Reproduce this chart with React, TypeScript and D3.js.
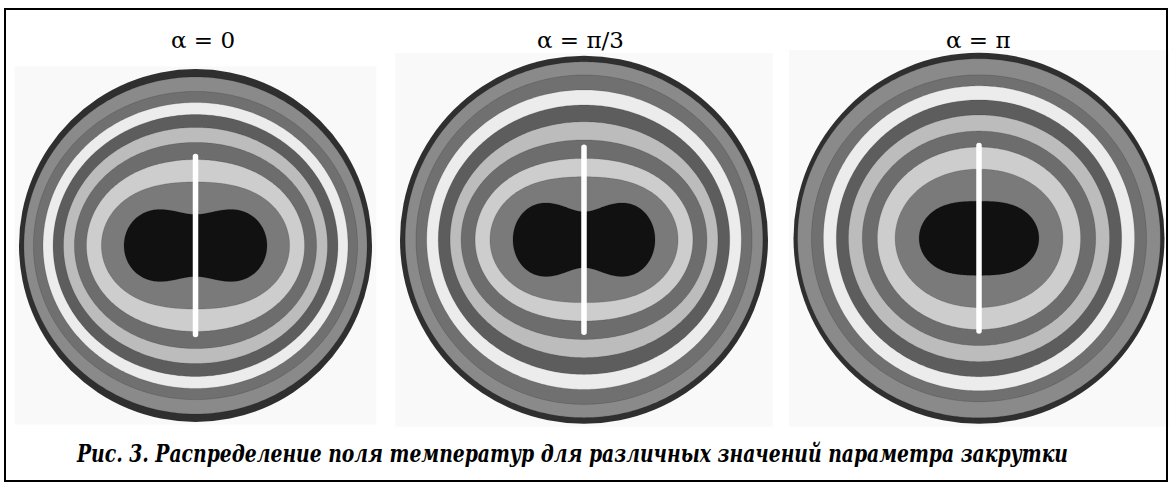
import React, { useLayoutEffect, useRef, useState } from 'react';
import * as d3 from 'd3';

const W = 1173;
const H = 485;

// Swirl parameter of each panel
const panelTitles = ['α = 0', 'α = π/3', 'α = π'];

// Isotherm band fills, from the wall (outer) to the core (inner)
const bandColors = [
  '#2f2f2f', '#8a8a8a', '#707070', '#ececec', '#5d5d5d',
  '#bcbcbc', '#6d6d6d', '#cdcdcd', '#7a7a7a', '#111111',
];

// Isotherm half-widths (along x) and half-heights (along y, at the axis),
// in units of the channel radius; index 0 is the wall itself.
const halfWidthA0 = [1, 0.972, 0.918, 0.864, 0.807, 0.748, 0.686, 0.618, 0.533, 0.405];
const halfHeightA0 = [1, 0.955, 0.873, 0.81, 0.742, 0.669, 0.584, 0.487, 0.36, 0.176];
const halfWidthA1 = [1, 0.972, 0.913, 0.855, 0.792, 0.728, 0.668, 0.592, 0.511, 0.386];
const halfHeightA1 = [1, 0.967, 0.895, 0.814, 0.732, 0.641, 0.542, 0.442, 0.342, 0.152];
const halfWidthA2 = [1, 0.978, 0.903, 0.839, 0.769, 0.704, 0.629, 0.548, 0.452, 0.323];
const halfHeightA2 = [1, 0.968, 0.881, 0.822, 0.746, 0.665, 0.578, 0.492, 0.373, 0.2];

// Peak half-height of the hot core lobes (0 = no lobes)
const coreLobeHeight = [0.204, 0.2, 0];

// Heater plate half-length, in units of the channel radius
const heaterHalfLength = [0.52, 0.518, 0.515];

const caption =
  'Рис. 3. Распределение поля температур для различных значений параметра закрутки';

// Panel placement on the page
const layout = [
  { cx: 195.5, cy: 245.5, r: 176.5, titleX: 203 },
  { cx: 584, cy: 239.7, r: 184, titleX: 580.5 },
  { cx: 979, cy: 238.3, r: 185.5, titleX: 978.3 },
];

const captionBox = { x: 77, baseline: 462, width: 991 };

const widths = [halfWidthA0, halfWidthA1, halfWidthA2];
const heights = [halfHeightA0, halfHeightA1, halfHeightA2];

const serif = 'DejaVu Serif';

// Closed oval (Cassini-type curve) with half-width a, axial half-height b,
// and optional lobe height h > b giving a two-lobed core.
function ovalPoints(a: number, b: number, h: number, n = 360): [number, number][] {
  let d2: number;
  let c2: number;
  let sx = 1;
  let sy = 1;
  if (h > b) {
    const q = h / b;
    const u = 2 * q * q - 2 * q * Math.sqrt(q * q - 1);
    d2 = 1;
    c2 = u;
    sx = a / Math.sqrt(u + 1);
    sy = b / Math.sqrt(u - 1);
  } else {
    d2 = (a * a - b * b) / 2;
    c2 = (a * a + b * b) / 2;
  }
  return d3.range(n).map((i) => {
    const t = (i / n) * 2 * Math.PI;
    const k = Math.cos(2 * t);
    const r2 = d2 * k + Math.sqrt(d2 * d2 * k * k + c2 * c2 - d2 * d2);
    const r = Math.sqrt(Math.max(r2, 0));
    return [sx * r * Math.cos(t), sy * r * Math.sin(t)];
  });
}

function Panel({ index }: { index: number }) {
  const { cx, cy, r, titleX } = layout[index];
  const x = d3.scaleLinear().domain([-1, 1]).range([cx - r, cx + r]);
  const y = d3.scaleLinear().domain([-1, 1]).range([cy + r, cy - r]);
  const line = d3
    .line<[number, number]>()
    .x((p) => x(p[0]))
    .y((p) => y(p[1]))
    .curve(d3.curveLinearClosed);

  const a = widths[index];
  const b = heights[index];
  const last = a.length - 1;
  const heater = heaterHalfLength[index];
  const barW = 5.5;

  return (
    <g>
      <rect
        x={x(-1.025)}
        y={y(1.015)}
        width={x(1.025) - x(-1.025)}
        height={y(-1.015) - y(1.015)}
        fill="#f9f9f9"
      />
      {a.map((ai, i) =>
        i === 0 ? (
          <circle key={i} cx={x(0)} cy={y(0)} r={x(ai) - x(0)} fill={bandColors[i]} />
        ) : (
          <path
            key={i}
            d={line(ovalPoints(ai, b[i], i === last ? coreLobeHeight[index] : 0)) || ''}
            fill={bandColors[i]}
            stroke="#000"
            strokeOpacity={0.18}
            strokeWidth={0.8}
          />
        )
      )}
      <rect
        x={x(0) - barW / 2}
        y={y(heater)}
        width={barW}
        height={y(-heater) - y(heater)}
        rx={barW / 2}
        fill="#ffffff"
      />
      <text
        x={titleX}
        y={47.5}
        textAnchor="middle"
        fontFamily={serif}
        fontSize={23}
        fill="#000"
      >
        {panelTitles[index]}
      </text>
    </g>
  );
}

// Figure caption, squeezed horizontally to its column width
function Caption() {
  const ref = useRef<SVGTextElement>(null);
  const [sx, setSx] = useState(0.8);
  useLayoutEffect(() => {
    if (ref.current) {
      const w = ref.current.getComputedTextLength();
      if (w > 0) setSx(captionBox.width / w);
    }
  }, []);
  return (
    <text
      ref={ref}
      transform={`translate(${captionBox.x},${captionBox.baseline}) scale(${sx},1)`}
      fontFamily={serif}
      fontStyle="italic"
      fontWeight="bold"
      fontSize={25}
      fill="#000"
    >
      {caption}
    </text>
  );
}

export default function App() {
  return (
    <svg
      width={W}
      height={H}
      viewBox={`0 0 ${W} ${H}`}
      style={{ position: 'absolute', left: 0, top: 0, background: '#fff' }}
    >
      <rect x={0} y={0} width={W} height={H} fill="#fff" />
      {layout.map((_, i) => (
        <Panel key={i} index={i} />
      ))}
      <rect x={5} y={9} width={1162} height={472} fill="none" stroke="#000" strokeWidth={2} />
      <Caption />
    </svg>
  );
}
